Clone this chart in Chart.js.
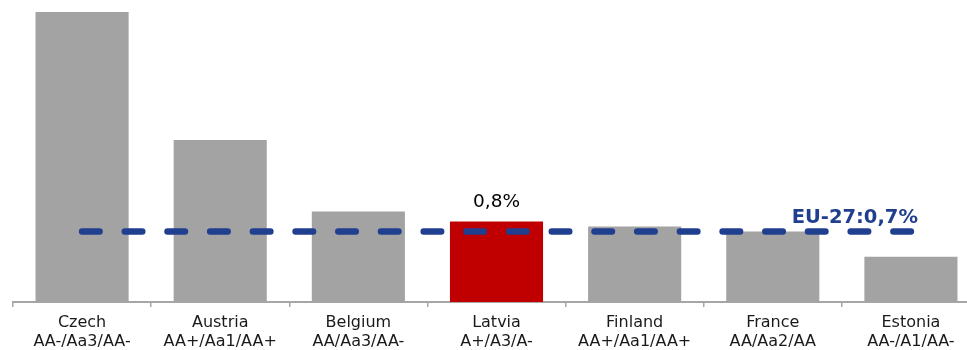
<!DOCTYPE html>
<html>
<head>
<meta charset="utf-8">
<script src="https://cdn.jsdelivr.net/npm/chart.js@4/dist/chart.umd.min.js"></script>
<style>
  html, body { margin: 0; padding: 0; background: #fff; overflow: hidden; }
  #wrap { position: relative; width: 990px; height: 350px; }
</style>
</head>
<body>
<div id="wrap"><canvas id="c"></canvas></div>
<script>
// Countries and their rating triplets (S&P / Moody's / Fitch)
const countries = ['Czech', 'Austria', 'Belgium', 'Latvia', 'Finland', 'France', 'Estonia'];
const ratings = ['AA-/Aa3/AA-', 'AA+/Aa1/AA+', 'AA/Aa3/AA-', 'A+/A3/A-', 'AA+/Aa1/AA+', 'AA/Aa2/AA', 'AA-/A1/AA-'];
// Values in percent
const values = [2.88, 1.61, 0.90, 0.80, 0.75, 0.70, 0.45];
const euAverage = 0.7;
const euLabel = 'EU-27:0,7%';
const highlighted = 'Latvia';

const fontFamily = '"DejaVu Sans", Verdana, sans-serif';
const fmt = v => v.toFixed(1).replace('.', ',') + '%';

const labelsPlugin = {
  id: 'valueLabels',
  afterDatasetsDraw(chart) {
    const ctx = chart.ctx;
    const x = chart.scales.x, y = chart.scales.y;
    ctx.save();
    // value over the highlighted bar
    const i = countries.indexOf(highlighted);
    ctx.font = '18.5px ' + fontFamily;
    ctx.fillStyle = '#000';
    ctx.textAlign = 'center';
    ctx.textBaseline = 'alphabetic';
    ctx.fillText(fmt(values[i]), x.getPixelForValue(i), y.getPixelForValue(values[i]) - 14);
    // EU average caption at the right end of the dashed line
    ctx.font = 'bold 19.5px ' + fontFamily;
    ctx.fillStyle = '#213f8f';
    ctx.textAlign = 'right';
    ctx.fillText(euLabel, x.getPixelForValue(countries.length - 1) + 7, y.getPixelForValue(euAverage) - 9);
    ctx.restore();
  }
};

new Chart(document.getElementById('c'), {
  data: {
    labels: countries.map((c, i) => [c, ratings[i]]),
    datasets: [
      {
        type: 'line',
        data: countries.map(() => euAverage),
        borderColor: '#213f8f',
        borderWidth: 6.5,
        borderDash: [17.5, 25.2],
        borderCapStyle: 'round',
        pointRadius: 0,
        fill: false,
        order: 0
      },
      {
        type: 'bar',
        data: values,
        backgroundColor: countries.map(c => c === highlighted ? '#c00000' : '#a3a3a3'),
        categoryPercentage: 1,
        barPercentage: 0.674,
        order: 1
      }
    ]
  },
  options: {
    responsive: true,
    maintainAspectRatio: false,
    animation: false,
    layout: { padding: { left: 13, right: 10, top: 0, bottom: 0 } },
    plugins: { legend: { display: false }, tooltip: { enabled: false } },
    scales: {
      x: {
        offset: true,
        grid: {
          offset: true,
          drawOnChartArea: false,
          drawTicks: true,
          tickLength: 5,
          color: '#a6a6a6',
          lineWidth: 1.5
        },
        border: { display: true, color: '#a6a6a6', width: 2 },
        ticks: {
          color: '#1a1a1a',
          padding: 6,
          maxRotation: 0,
          autoSkip: false,
          font: { family: fontFamily, size: 16, lineHeight: 1.2 }
        },
        afterFit(scale) { scale.height = 48; }
      },
      y: {
        display: false,
        min: 0,
        max: 3
      }
    }
  },
  plugins: [labelsPlugin]
});
</script>
</body>
</html>
